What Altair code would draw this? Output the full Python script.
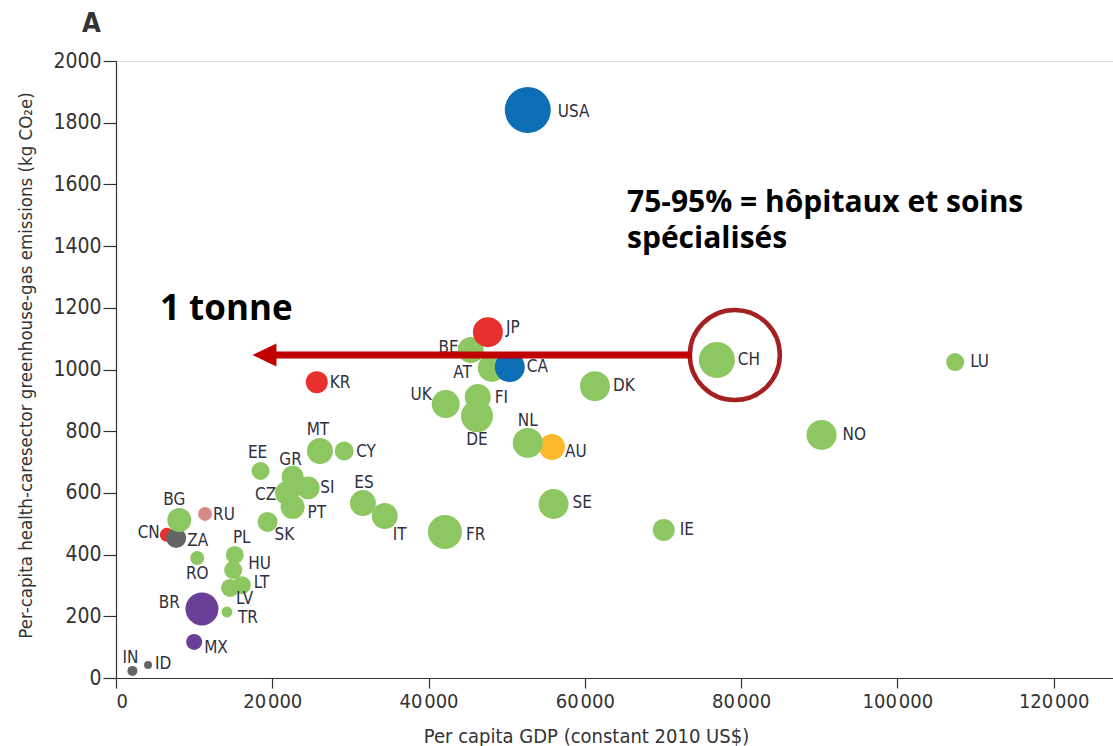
import altair as alt
import pandas as pd

# Per-country values: GDP per capita (constant 2010 US$) and per-capita
# health-care sector greenhouse-gas emissions (kg CO2e)
codes = ["USA", "CN", "ZA", "BE", "JP", "AT", "CA", "DK", "UK", "FI", "DE",
         "AU", "NL", "SE", "FR", "IT", "IE", "NO", "LU", "CH", "KR", "MT",
         "CY", "EE", "GR", "SI", "CZ", "PT", "ES", "SK", "BG", "RU", "RO",
         "PL", "HU", "LT", "LV", "TR", "BR", "MX", "IN", "ID"]
gdp = [52700, 6500, 7700, 45400, 47600, 48100, 50400, 61300, 42200, 46300, 46200,
       55800, 52700, 56000, 42100, 34400, 70100, 90300, 107400, 76900, 25700, 26100,
       29200, 18500, 22600, 24600, 21900, 22600, 31600, 19400, 8100, 11400, 10400,
       15200, 15000, 16100, 14600, 14200, 11000, 10000, 2100, 4100]
emissions = [1841, 464, 454, 1063, 1121, 1005, 1008, 946, 888, 911, 849,
             749, 762, 564, 473, 525, 480, 788, 1024, 1031, 959, 736,
             736, 671, 652, 616, 600, 554, 567, 506, 512, 532, 389,
             399, 350, 301, 292, 214, 224, 117, 23, 42]
# relative bubble magnitude
bubble = [529, 49, 100, 169, 225, 196, 225, 225, 196, 169, 256,
          169, 225, 225, 289, 169, 121, 225, 81, 324, 121, 169,
          90, 81, 121, 130, 144, 144, 169, 100, 144, 49, 49,
          81, 81, 81, 81, 30, 272, 64, 25, 16]
region = ["North America", "East Asia", "Other", "Europe", "East Asia", "Europe",
          "North America", "Europe", "Europe", "Europe", "Europe", "Australia",
          "Europe", "Europe", "Europe", "Europe", "Europe", "Europe", "Europe",
          "Europe", "East Asia", "Europe", "Europe", "Europe", "Europe", "Europe",
          "Europe", "Europe", "Europe", "Europe", "Europe", "Russia", "Europe",
          "Europe", "Europe", "Europe", "Europe", "Europe", "Latin America",
          "Latin America", "Other", "Other"]

region_names = ["Europe", "North America", "East Asia", "Russia", "Australia",
                "Latin America", "Other"]
region_colors = ["#8DC762", "#0D6EB6", "#E8312F", "#D68B88", "#FDB82B",
                 "#6A3F97", "#646567"]

x_ticks = [0, 20000, 40000, 60000, 80000, 100000, 120000]
y_ticks = list(range(0, 2001, 200))

# Label placement around each bubble: pixel offset and text alignment
label_place = {
    "USA": (30, 2, "left"), "CN": (-7, -2, "right"), "ZA": (11, 3, "left"),
    "BE": (-12, -2, "right"), "JP": (18, -4, "left"), "AT": (-20, 5, "right"),
    "CA": (17, 0, "left"), "DK": (18, 0, "left"), "UK": (-14, -9, "right"),
    "FI": (17, 1, "left"), "DE": (0, 24, "center"), "AU": (13, 5, "left"),
    "NL": (0, -22, "center"), "SE": (19, -1, "left"), "FR": (21, 3, "left"),
    "IT": (8, 19, "left"), "IE": (16, 0, "left"), "NO": (21, 0, "left"),
    "LU": (15, 0, "left"), "CH": (21, 0, "left"), "KR": (13, 1, "left"),
    "MT": (-2, -21, "center"), "CY": (12, 1, "left"), "EE": (-3, -18, "center"),
    "GR": (-2, -17, "center"), "SI": (12, 0, "left"), "CZ": (-11, 2, "right"),
    "PT": (15, 6, "left"), "ES": (1, -20, "center"), "SK": (7, 13, "left"),
    "BG": (-5, -20, "center"), "RU": (8, 1, "left"), "RO": (0, 16, "center"),
    "PL": (7, -17, "center"), "HU": (15, -6, "left"), "LT": (12, -2, "left"),
    "LV": (6, 11, "left"), "TR": (11, 6, "left"), "BR": (-22, -6, "right"),
    "MX": (10, 6, "left"), "IN": (-2, -13, "center"), "ID": (7, -1, "left"),
}

W, H = 997, 617
X_MAX, Y_MAX = 127600, 2000
ux = X_MAX / W   # data units per pixel along x
uy = Y_MAX / H   # data units per pixel along y

df = pd.DataFrame({"code": codes, "gdp": gdp, "emissions": emissions,
                   "bubble": bubble, "region": region})
df["lx"] = [g + label_place[c][0] * ux for c, g in zip(codes, gdp)]
df["ly"] = [e - label_place[c][1] * uy for c, e in zip(codes, emissions)]
df["align"] = [label_place[c][2] for c in codes]

AXIS_FONT = "DejaVu Sans Condensed, Liberation Sans, sans-serif"
NOTE_FONT = "Open Sans"
INK = "#333333"

x_scale = alt.Scale(domain=[0, X_MAX], nice=False, zero=True)
y_scale = alt.Scale(domain=[0, Y_MAX], nice=False, zero=True)

thin_label = ("datum.value >= 10000 ? replace(format(datum.value, ','), ',', '\u200a')"
              " : datum.label")

x_enc = alt.X(
    "gdp:Q", scale=x_scale,
    axis=alt.Axis(
        values=x_ticks, grid=False, tickSize=10, labelFontSize=20, labelPadding=3,
        labelExpr=thin_label, labelFont=AXIS_FONT, labelColor=INK,
        domainColor=INK, tickColor=INK, domainWidth=1.2, tickWidth=1.2,
        title="Per capita GDP (constant 2010 US$)", titleFont=AXIS_FONT,
        titleFontSize=20, titleFontWeight="normal", titleColor=INK,
        titleX=470, titleY=64, titleAlign="center", titleBaseline="alphabetic",
    ),
)
y_enc = alt.Y(
    "emissions:Q", scale=y_scale,
    axis=alt.Axis(
        values=y_ticks, grid=False, tickSize=13, labelFontSize=21, labelPadding=2,
        labelFont=AXIS_FONT, labelColor=INK, format="d",
        domainColor=INK, tickColor=INK, domainWidth=1.2, tickWidth=1.2,
        title="Per-capita health-caresector greenhouse-gas emissions (kg CO\u2082e)",
        titleFont=AXIS_FONT, titleFontSize=18.5, titleFontWeight="normal",
        titleColor=INK, titleX=-91, titleY=304, titleAngle=270,
        titleAlign="center", titleBaseline="middle",
    ),
)

bubbles = alt.Chart(df).mark_circle(opacity=1, stroke=None).encode(
    x=x_enc,
    y=y_enc,
    size=alt.Size("bubble:Q", scale=alt.Scale(domain=[0, 100], range=[0, 400]),
                  legend=None),
    color=alt.Color("region:N", scale=alt.Scale(domain=region_names,
                                                range=region_colors),
                    legend=None),
)


def label_layer(align):
    return alt.Chart(df).transform_filter(
        alt.datum.align == align
    ).mark_text(
        align=align, baseline="middle", font=AXIS_FONT, fontSize=17,
        color="#2F3040",
    ).encode(
        x=alt.X("lx:Q", scale=x_scale),
        y=alt.Y("ly:Q", scale=y_scale),
        text="code:N",
    )


labels = label_layer("left") + label_layer("right") + label_layer("center")

# Highlight ring around Switzerland and the "1 tonne" arrow
ring_df = pd.DataFrame({"x": [79200], "y": [1047]})
ring = alt.Chart(ring_df).mark_point(
    shape="circle", filled=False, size=8100, strokeWidth=4.5,
    color="#A52021", opacity=1,
).encode(x=alt.X("x:Q", scale=x_scale), y=alt.Y("y:Q", scale=y_scale))

arrow_df = pd.DataFrame({"x": [19700], "x2": [73700], "y": [1047]})
shaft = alt.Chart(arrow_df).mark_rule(color="#C00000", strokeWidth=7).encode(
    x=alt.X("x:Q", scale=x_scale), x2="x2:Q", y=alt.Y("y:Q", scale=y_scale)
)
head_df = pd.DataFrame({"x": [19000], "y": [1047]})
head = alt.Chart(head_df).mark_point(
    shape="M-1,0L1,-0.96L1,0.96Z", size=576, filled=True, color="#C00000",
    opacity=1, strokeWidth=0,
).encode(x=alt.X("x:Q", scale=x_scale), y=alt.Y("y:Q", scale=y_scale))

notes_df = pd.DataFrame({
    "x": [5630, 65400, 65400],
    "y": [1160, 1510, 1394],
    "text": ["1 tonne", "75-95% = h\u00f4pitaux et soins", "sp\u00e9cialis\u00e9s"],
    "size": [35, 30, 30],
})
notes = alt.Chart(notes_df).mark_text(
    align="left", baseline="alphabetic", font=NOTE_FONT, fontWeight="bold",
    color="#000000",
).encode(
    x=alt.X("x:Q", scale=x_scale),
    y=alt.Y("y:Q", scale=y_scale),
    text="text:N",
    size=alt.Size("size:Q", scale=None),
)

# Panel letter in the top-left corner, outside the plot area
panel_df = pd.DataFrame({"x": [-4350], "y": [2094], "text": ["A"]})
panel = alt.Chart(panel_df).mark_text(
    align="left", baseline="alphabetic", font=AXIS_FONT, fontSize=27,
    fontWeight="bold", color=INK,
).encode(
    x=alt.X("x:Q", scale=x_scale),
    y=alt.Y("y:Q", scale=y_scale),
    text="text:N",
)

chart = alt.layer(bubbles, labels, ring, shaft, head, notes, panel).properties(
    width=W,
    height=H,
    autosize=alt.AutoSizeParams(type="none"),
    padding={"left": 116, "top": 61, "right": 0, "bottom": 68},
).configure_view(stroke=None).configure(background="white")

chart.save("out.html", embed_options={"renderer": "svg", "actions": False})
